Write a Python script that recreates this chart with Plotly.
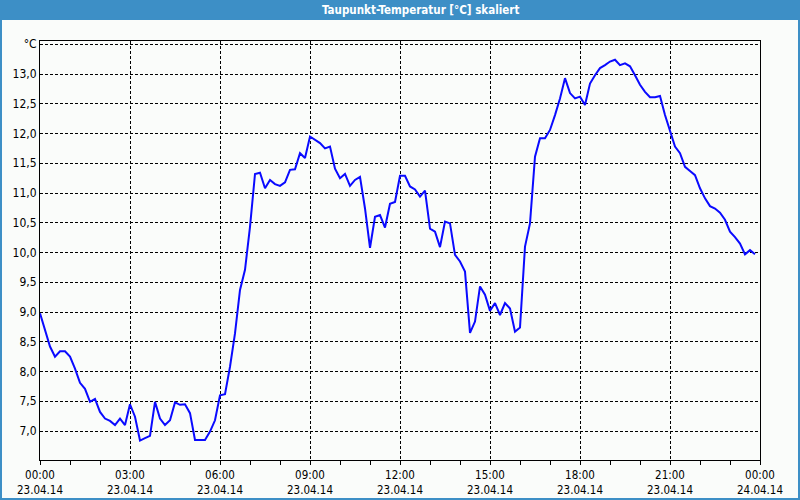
import pandas as pd
import plotly.graph_objects as go

TITLE = "Taupunkt-Temperatur [°C] skaliert"
START = "2014-04-23 00:00"
STEP = "10min"

dew_point = [
    8.98, 8.68, 8.42, 8.25, 8.34, 8.34, 8.25, 8.05, 7.81, 7.71,
    7.49, 7.54, 7.32, 7.21, 7.17, 7.10, 7.21, 7.10, 7.45, 7.24,
    6.84, 6.88, 6.92, 7.49, 7.21, 7.10, 7.18, 7.48, 7.44, 7.45,
    7.30, 6.85, 6.85, 6.85, 6.99, 7.18, 7.60, 7.62, 8.08, 8.64,
    9.37, 9.71, 10.43, 11.32, 11.34, 11.08, 11.22, 11.15, 11.12, 11.18,
    11.39, 11.40, 11.67, 11.59, 11.95, 11.90, 11.84, 11.75, 11.78, 11.41,
    11.25, 11.32, 11.12, 11.22, 11.27, 10.74, 10.08, 10.60, 10.63, 10.42,
    10.82, 10.85, 11.29, 11.29, 11.11, 11.06, 10.94, 11.04, 10.40, 10.35,
    10.09, 10.52, 10.49, 9.96, 9.85, 9.68, 8.65, 8.84, 9.43, 9.29,
    9.02, 9.15, 8.95, 9.15, 9.06, 8.67, 8.74, 10.10, 10.49, 11.61,
    11.92, 11.92, 12.06, 12.31, 12.59, 12.93, 12.68, 12.59, 12.62, 12.48,
    12.84, 12.98, 13.10, 13.15, 13.21, 13.24, 13.15, 13.18, 13.13, 12.98,
    12.82, 12.70, 12.61, 12.61, 12.63, 12.31, 12.06, 11.78, 11.67, 11.44,
    11.37, 11.30, 11.08, 10.91, 10.78, 10.74, 10.67, 10.55, 10.35, 10.26,
    10.15, 9.97, 10.04, 9.97,
]

x_tick_vals = ["2014-04-23 00:00", "2014-04-23 03:00", "2014-04-23 06:00",
               "2014-04-23 09:00", "2014-04-23 12:00", "2014-04-23 15:00",
               "2014-04-23 18:00", "2014-04-23 21:00", "2014-04-24 00:00"]
x_tick_text = ["00:00<br>23.04.14", "03:00<br>23.04.14", "06:00<br>23.04.14",
               "09:00<br>23.04.14", "12:00<br>23.04.14", "15:00<br>23.04.14",
               "18:00<br>23.04.14", "21:00<br>23.04.14", "00:00<br>24.04.14"]
y_tick_vals = [7.0, 7.5, 8.0, 8.5, 9.0, 9.5, 10.0, 10.5, 11.0, 11.5, 12.0, 12.5, 13.0, 13.5]
y_tick_text = ["7,0", "7,5", "8,0", "8,5", "9,0", "9,5", "10,0", "10,5",
               "11,0", "11,5", "12,0", "12,5", "13,0", "°C"]

times = pd.date_range(START, periods=len(dew_point), freq=STEP)

FONT = "DejaVu Sans Condensed, DejaVu Sans, sans-serif"
BG = "#fafcfa"
BLUE = "#3d8fc6"

fig = go.Figure()
fig.add_trace(go.Scatter(x=times, y=dew_point, mode="lines",
                         line=dict(color="#0a0aff", width=2), hoverinfo="skip"))

L, R, T, B = 40, 40, 41, 40
W, H = 800, 500
pw, ph = W - L - R, H - T - B

fig.update_layout(
    width=W, height=H,
    margin=dict(l=L, r=R, t=T, b=B, pad=0, autoexpand=False),
    paper_bgcolor=BG, plot_bgcolor=BG,
    showlegend=False,
    font=dict(family=FONT, size=12, color="black"),
    xaxis=dict(
        type="date", automargin=False,
        range=["2014-04-23 00:00", "2014-04-24 00:00"],
        tickvals=x_tick_vals, ticktext=x_tick_text,
        tickfont=dict(size=11.5),
        showgrid=True, gridcolor="black", griddash="3px,2px", gridwidth=1,
        showline=True, linecolor="black", linewidth=1, mirror=True,
        ticks="outside", ticklen=4, tickcolor="black", ticklabelstandoff=0,
        minor=dict(dtick=3600000, ticks="outside", ticklen=4, tickcolor="black", showgrid=False),
        zeroline=False, fixedrange=True,
    ),
    yaxis=dict(
        automargin=False,
        range=[6.513, 13.555],
        tickvals=y_tick_vals, ticktext=y_tick_text,
        showgrid=True, gridcolor="black", griddash="3px,2px", gridwidth=1,
        showline=True, linecolor="black", linewidth=1, mirror=True,
        ticks="", zeroline=False, fixedrange=True,
    ),
    shapes=[
        dict(type="rect", xref="paper", yref="paper",
             x0=-L / pw, x1=1 + R / pw, y0=1 + (T - 20) / ph, y1=1 + T / ph,
             fillcolor=BLUE, line=dict(width=0), layer="above"),
        dict(type="rect", xref="paper", yref="paper",
             x0=-(L - 1) / pw, x1=1 + (R - 1) / pw, y0=-(B - 1) / ph, y1=1 + T / ph,
             fillcolor="rgba(0,0,0,0)", line=dict(color=BLUE, width=2), layer="above"),
    ],
    annotations=[
        dict(text="<b>" + TITLE + "</b>", xref="paper", yref="paper",
             x=(320 - L) / pw, y=1 + (T - 10) / ph,
             xanchor="left", yanchor="middle", showarrow=False,
             font=dict(family=FONT, size=11.5, color="white")),
    ],
)

fig.write_html("out.html")
